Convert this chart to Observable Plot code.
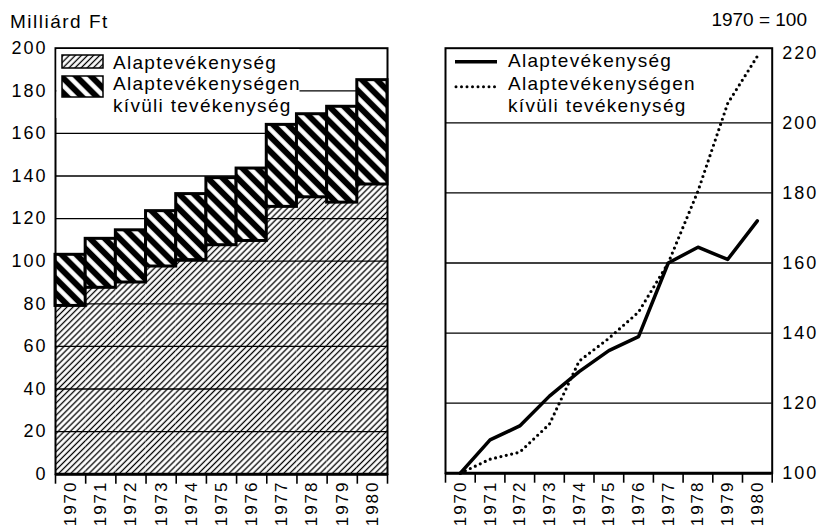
<!DOCTYPE html>
<html><head><meta charset="utf-8">
<script src="https://cdn.jsdelivr.net/npm/d3@7"></script>
<script src="https://cdn.jsdelivr.net/npm/@observablehq/plot@0.6"></script>
<style>
body{margin:0;background:#fff;font-family:"Liberation Sans",Arial,sans-serif;}
#wrap{position:relative;width:819px;height:529px;overflow:hidden;background:#fff;}
.panel{position:absolute;top:0;}
.title{position:absolute;font-size:19px;line-height:19px;white-space:nowrap;color:#000;}
</style></head><body>
<svg width="0" height="0" style="position:absolute">
<defs>
<pattern id="hatchLight" patternUnits="userSpaceOnUse" width="4.3" height="4.3" patternTransform="rotate(45)">
<rect width="4.3" height="4.3" fill="#fff"/>
<line x1="2.15" y1="0" x2="2.15" y2="4.3" stroke="#000" stroke-width="1.3"/>
</pattern>
<pattern id="hatchDark" patternUnits="userSpaceOnUse" width="10.5" height="10.5" patternTransform="rotate(-45)">
<rect width="10.5" height="10.5" fill="#000"/>
<rect x="3" width="4.5" height="10.5" fill="#fff"/>
</pattern>
</defs></svg>
<div id="wrap">
 <div id="left" class="panel" style="left:0"></div>
 <div id="right" class="panel" style="left:410px"></div>
 <div class="title" style="left:10px;top:12px;letter-spacing:1.5px">Milliárd Ft</div>
 <div class="title" style="right:12px;top:10px">1970 = 100</div>
 <svg id="legend" width="819" height="130" style="position:absolute;left:0;top:0;pointer-events:none" font-family="Liberation Sans, Arial, sans-serif" font-size="19">
  <rect x="56.5" y="49" width="243" height="51" fill="#fff"/>
  <rect x="56.5" y="100" width="235" height="18" fill="#fff"/>
  <rect x="62" y="55" width="41" height="13" fill="url(#hatchLight)" stroke="#000" stroke-width="1.5"/>
  <rect x="62" y="76" width="41" height="21" fill="url(#hatchDark)" stroke="#000" stroke-width="1.5"/>
  <g letter-spacing="1.3">
   <text x="113" y="69">Alaptevékenység</text>
   <text x="113" y="90">Alaptevékenységen</text>
   <text x="113" y="111.7">kívüli tevékenység</text>
  </g>
  <line x1="455" y1="61.7" x2="497" y2="61.7" stroke="#000" stroke-width="3.5"/>
  <line x1="456" y1="86.7" x2="497" y2="86.7" stroke="#000" stroke-width="3" stroke-dasharray="0 5.5" stroke-linecap="round"/>
  <g letter-spacing="1.3">
   <text x="508" y="66.7">Alaptevékenység</text>
   <text x="508" y="90">Alaptevékenységen</text>
   <text x="508" y="111.7">kívüli tevékenység</text>
  </g>
 </svg>
</div>
<script>
const years = [1970,1971,1972,1973,1974,1975,1976,1977,1978,1979,1980];
// Milliárd Ft
const alapFt   = [79, 87.5, 90, 97.5, 100.5, 107.5, 109.5, 125.5, 130, 127.5, 136];
const osszesFt = [103, 110.5, 114.5, 123.5, 131.5, 139, 143.5, 164, 169, 172.5, 185];
// 1970 = 100
const alapIndex   = [100, 109.5, 113.5, 122, 129, 135, 139, 160, 164.5, 161, 172];
const kivuliIndex = [100, 104, 106, 114, 132, 138.5, 146, 160, 180.5, 205.5, 219];
const leftTicks  = [0,20,40,60,80,100,120,140,160,180,200];
const rightTicks = [100,120,140,160,180,200,220];

const bounds = years.concat([1981]).map(y => y - 0.5);
const bars = years.map((year, i) => ({year, base: alapFt[i], total: osszesFt[i]}));
const alapLine = years.map((year, i) => ({year, value: alapIndex[i]}));
const kivuliLine = years.map((year, i) => ({year, value: kivuliIndex[i]}));

const style = {fontFamily: "Liberation Sans, Arial, sans-serif", fontSize: "18px", color: "#000", background: "transparent", overflow: "visible"};

function yearLabels(dy) {
  return Plot.text(years, {x: d => d, text: d => String(d), frameAnchor: "bottom", rotate: -90, textAnchor: "end", lineAnchor: "middle", dy, fontSize: 17, ariaLabel: "year labels"});
}

const left = Plot.plot({
  width: 410, height: 529,
  marginLeft: 55, marginRight: 23, marginTop: 47.7, marginBottom: 55.3,
  style,
  x: {domain: [1969.5, 1980.5], label: null},
  y: {domain: [0, 200], label: null},
  marks: [
    Plot.rect(bars, {x1: d => d.year - 0.5, x2: d => d.year + 0.5, y1: d => 0, y2: "base", fill: "url(#hatchLight)"}),
    Plot.ruleY(leftTicks.filter(t => t > 0 && t < 200), {stroke: "#000", strokeWidth: 1.3}),
    Plot.rect(bars, {x1: d => d.year - 0.5, x2: d => d.year + 0.5, y1: "base", y2: "total", fill: "url(#hatchDark)", stroke: "#000", strokeWidth: 3}),
    Plot.frame({stroke: "#000", strokeWidth: 2}),
    Plot.ruleY([0], {stroke: "#000", strokeWidth: 3}),
    Plot.axisY({ticks: leftTicks, tickSize: 0, tickPadding: 8, fontSize: 18, label: null}),
    Plot.axisX({ticks: bounds, tickSize: 10, tickFormat: () => "", strokeWidth: 1.6, label: null}),
    yearLabels(6.3)
  ]
});
document.getElementById("left").appendChild(left);

const right = Plot.plot({
  width: 409, height: 529,
  marginLeft: 35, marginRight: 47.3, marginTop: 47.7, marginBottom: 56.3,
  style,
  x: {domain: [1969.5, 1980.5], label: null},
  y: {domain: [100, 221.3], label: null},
  marks: [
    Plot.ruleY(rightTicks.filter(t => t > 100 && t < 220), {stroke: "#000", strokeWidth: 1.3}),
    Plot.line(kivuliLine, {x: "year", y: "value", stroke: "#000", strokeWidth: 3.2, strokeDasharray: "0 5.5", strokeLinecap: "round"}),
    Plot.line(alapLine, {x: "year", y: "value", stroke: "#000", strokeWidth: 3.5}),
    Plot.frame({stroke: "#000", strokeWidth: 2}),
    Plot.ruleY([100], {stroke: "#000", strokeWidth: 3}),
    Plot.axisY({anchor: "right", ticks: rightTicks, tickSize: 0, tickPadding: 10, fontSize: 18, label: null}),
    Plot.axisX({ticks: bounds, tickSize: 10, tickFormat: () => "", strokeWidth: 1.6, label: null}),
    yearLabels(7.3)
  ]
});
document.getElementById("right").appendChild(right);

// typographic spacing to match the printed original
for (const svg of [left, right]) {
  svg.querySelectorAll("text").forEach(t => {
    const tr = t.getAttribute("transform") || "";
    if (tr.includes("rotate")) { t.style.letterSpacing = "2px"; t.style.fontSize = "17px"; }
  });
  svg.querySelectorAll('g[aria-label="y-axis tick label"] text').forEach(t => { t.style.letterSpacing = "2px"; });
}
</script>
</body></html>
